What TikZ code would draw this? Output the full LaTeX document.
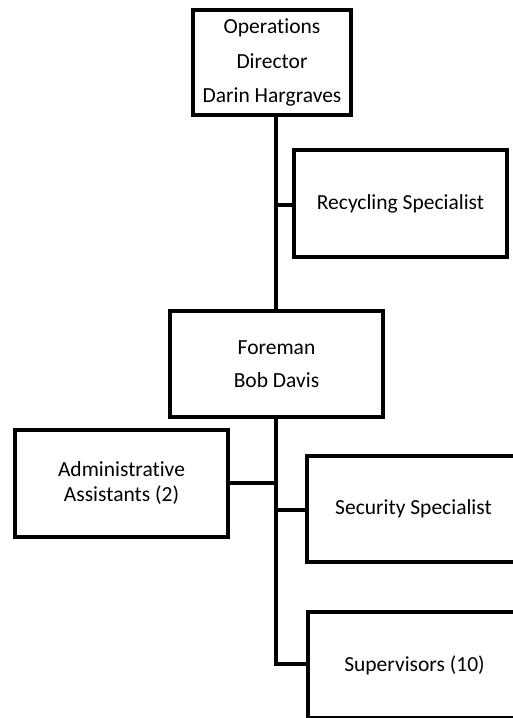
\documentclass[tikz,border=0pt]{standalone}
\usepackage{fontspec}
\setmainfont[Ligatures=NoCommon]{Carlito}
\begin{document}
\begin{tikzpicture}[x=1pt,y=-1pt,
  box/.style={draw=black, line width=3.5pt, fill=white, inner sep=0pt, minimum width=213pt, minimum height=106pt, align=center, font=\fontsize{21.5}{26}\selectfont},
  conn/.style={draw=black, line width=3.5pt}]
\useasboundingbox (0,0) rectangle (513,718);
\clip (0,0) rectangle (513,718);
\node[box, minimum width=158pt, minimum height=105pt] (op) at (272,62.5) {Operations\\[8.5pt]Director\\[8.5pt]Darin Hargraves};
\node[box, minimum height=107pt] (rec) at (400.5,203.5) {Recycling Specialist};
\node[box] (fore) at (276.5,364) {Foreman\\[7pt]Bob Davis};
\node[box, minimum height=107pt] (adm) at (121.5,483.5) {Administrative\\[-1pt]Assistants (2)};
\node[box] (sec) at (413.5,509) {Security Specialist};
\node[box] (sup) at (414.5,665) {Supervisors (10)};
\coordinate (t1) at (276,115);
\coordinate (t2) at (276,311);
\coordinate (r) at (276,205);
\coordinate (t3) at (276,417);
\coordinate (a) at (276,483);
\coordinate (s) at (276,510);
\coordinate (e) at (276,664);
\draw[conn] (t1) -- (t2);
\draw[conn] (r) -- (rec.west |- r);
\draw[conn] (t3) -- (e) -- (sup.west |- e);
\draw[conn] (adm.east |- a) -- (a);
\draw[conn] (s) -- (sec.west |- s);
\end{tikzpicture}
\end{document}
